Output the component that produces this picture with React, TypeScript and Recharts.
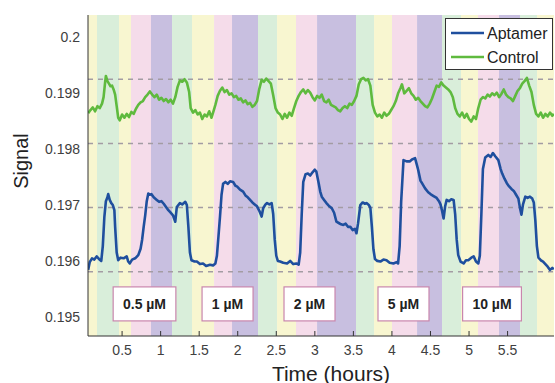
import React from 'react';
import {
  ComposedChart,
  Line,
  XAxis,
  YAxis,
  ReferenceArea,
  ReferenceLine,
  ReferenceDot,
  Legend,
} from 'recharts';

// ---------- data ----------
const xTicks = [0.5, 1, 1.5, 2, 2.5, 3, 3.5, 4, 4.5, 5, 5.5];
const yTickLabels = [0.195, 0.196, 0.197, 0.198, 0.199, 0.2];
const gridValues = [0.196, 0.197, 0.198, 0.199];

// background phase bands (hours)
const bandEdges = [
  0.058, 0.175, 0.46, 0.616, 0.875, 1.148, 1.407, 1.693, 1.926, 2.263, 2.51, 2.756,
  3.029, 3.534, 3.768, 4.001, 4.326, 4.65, 4.896, 5.117, 5.389, 5.661, 5.882, 6.102,
];
const bandKinds = [
  'yellow', 'green', 'yellow', 'pink', 'purple', 'green', 'yellow', 'pink', 'purple',
  'green', 'yellow', 'pink', 'purple', 'green', 'yellow', 'pink', 'purple', 'green',
  'yellow', 'pink', 'purple', 'green', 'yellow',
];

const concLabels = ['0.5 µM', '1 µM', '2 µM', '5 µM', '10 µM'];
const concTimes = [0.791, 1.868, 2.931, 4.15, 5.298];
const concLevel = 0.1955;

const aptamerT = [
  0.06, 0.08, 0.11, 0.14, 0.17, 0.2, 0.23, 0.25, 0.27, 0.29, 0.31, 0.32, 0.34, 0.36, 0.38, 0.4,
  0.41, 0.43, 0.45, 0.48, 0.52, 0.56, 0.58, 0.6, 0.63, 0.67, 0.71, 0.74, 0.76, 0.78, 0.8, 0.82,
  0.84, 0.86, 0.88, 0.91, 0.95, 0.98, 1.01, 1.04, 1.07, 1.1, 1.13, 1.16, 1.19, 1.21, 1.25, 1.28,
  1.32, 1.34, 1.36, 1.38, 1.4, 1.44, 1.47, 1.51, 1.55, 1.59, 1.64, 1.68, 1.71, 1.73, 1.75, 1.77,
  1.79, 1.81, 1.84, 1.87, 1.9, 1.94, 1.97, 1.99, 2.03, 2.07, 2.1, 2.13, 2.16, 2.19, 2.22, 2.25,
  2.28, 2.31, 2.33, 2.36, 2.38, 2.41, 2.44, 2.46, 2.48, 2.5, 2.52, 2.55, 2.59, 2.64, 2.68, 2.72,
  2.76, 2.79, 2.81, 2.83, 2.85, 2.88, 2.91, 2.94, 2.97, 3.0, 3.02, 3.05, 3.07, 3.09, 3.12, 3.15,
  3.18, 3.22, 3.25, 3.28, 3.31, 3.34, 3.37, 3.4, 3.43, 3.46, 3.49, 3.52, 3.54, 3.56, 3.59, 3.62,
  3.65, 3.67, 3.7, 3.72, 3.74, 3.76, 3.78, 3.81, 3.85, 3.89, 3.93, 3.97, 4.02, 4.06, 4.08, 4.1,
  4.12, 4.15, 4.19, 4.23, 4.26, 4.3, 4.32, 4.34, 4.37, 4.39, 4.43, 4.47, 4.5, 4.54, 4.58, 4.61,
  4.63, 4.65, 4.67, 4.69, 4.71, 4.74, 4.77, 4.8, 4.82, 4.84, 4.86, 4.89, 4.93, 4.96, 4.99, 5.03,
  5.06, 5.09, 5.12, 5.14, 5.16, 5.18, 5.21, 5.25, 5.28, 5.31, 5.34, 5.38, 5.41, 5.43, 5.46, 5.49,
  5.52, 5.55, 5.58, 5.61, 5.64, 5.66, 5.68, 5.7, 5.73, 5.76, 5.79, 5.82, 5.84, 5.86, 5.88, 5.9,
  5.93, 5.96, 5.99, 6.02, 6.05, 6.08, 6.1,
];
const aptamerV = [
  0.19603, 0.19615, 0.19621, 0.19619, 0.19624, 0.1962, 0.19617, 0.1964, 0.19685, 0.1971, 0.19716, 0.19721, 0.19712, 0.19707, 0.19704, 0.19696,
  0.1967, 0.1963, 0.19618, 0.19622, 0.19621, 0.19624, 0.19616, 0.19613, 0.19619, 0.19621, 0.19626, 0.19636, 0.1965, 0.1967, 0.19688, 0.1971,
  0.19722, 0.1972, 0.19721, 0.19716, 0.19712, 0.19709, 0.1971, 0.19706, 0.19701, 0.19696, 0.19692, 0.19688, 0.19678, 0.19701, 0.19707, 0.19705,
  0.19709, 0.19704, 0.1967, 0.1963, 0.19618, 0.19616, 0.19616, 0.19612, 0.19613, 0.19609, 0.19611, 0.1961, 0.19613, 0.19625, 0.19655, 0.19686,
  0.1972, 0.19737, 0.1974, 0.19737, 0.19741, 0.1974, 0.19734, 0.19733, 0.19728, 0.19725, 0.19719, 0.19716, 0.19712, 0.19708, 0.19705, 0.19702,
  0.19695, 0.19686, 0.19699, 0.19705, 0.19707, 0.19705, 0.19707, 0.1969, 0.1965, 0.19625, 0.19617, 0.19616, 0.19614, 0.19613, 0.19617, 0.19612,
  0.19613, 0.19611, 0.1963, 0.1969, 0.1974, 0.19752, 0.19753, 0.1975, 0.19755, 0.19759, 0.19756, 0.19738, 0.19725, 0.19717, 0.19712, 0.19707,
  0.19703, 0.19699, 0.19692, 0.19678, 0.19676, 0.19674, 0.19673, 0.19675, 0.1967, 0.1967, 0.19665, 0.19667, 0.1966, 0.19675, 0.19704, 0.19708,
  0.19706, 0.19707, 0.19704, 0.197, 0.1967, 0.19635, 0.1962, 0.19617, 0.19616, 0.19619, 0.19618, 0.19614, 0.19613, 0.19615, 0.19613, 0.1964,
  0.1971, 0.19774, 0.19772, 0.19772, 0.19775, 0.19777, 0.19768, 0.19759, 0.19742, 0.19738, 0.1973, 0.19724, 0.19721, 0.19718, 0.19715, 0.1971,
  0.19705, 0.19695, 0.19683, 0.19702, 0.19712, 0.1971, 0.19713, 0.19712, 0.1969, 0.1965, 0.19626, 0.19616, 0.19613, 0.19618, 0.19618, 0.19622,
  0.19624, 0.19616, 0.19613, 0.19625, 0.1969, 0.1976, 0.19778, 0.19782, 0.19779, 0.19785, 0.1978, 0.19774, 0.1976, 0.19753, 0.19745, 0.19738,
  0.19733, 0.19729, 0.19726, 0.1972, 0.19714, 0.197, 0.19689, 0.19705, 0.19717, 0.19715, 0.19717, 0.19714, 0.19708, 0.1968, 0.1964, 0.19622,
  0.19618, 0.19616, 0.19612, 0.19608, 0.19603, 0.19606, 0.19604,
];

const controlT = [
  0.06, 0.09, 0.12, 0.15, 0.18, 0.21, 0.24, 0.26, 0.28, 0.29, 0.31, 0.33, 0.35, 0.37, 0.39, 0.41,
  0.43, 0.45, 0.47, 0.5, 0.53, 0.56, 0.59, 0.62, 0.65, 0.68, 0.71, 0.74, 0.77, 0.8, 0.83, 0.86,
  0.89, 0.92, 0.95, 0.98, 1.01, 1.04, 1.07, 1.1, 1.13, 1.16, 1.19, 1.22, 1.25, 1.28, 1.31, 1.34,
  1.37, 1.39, 1.42, 1.45, 1.48, 1.51, 1.54, 1.57, 1.6, 1.63, 1.66, 1.69, 1.71, 1.74, 1.77, 1.8,
  1.83, 1.86, 1.89, 1.92, 1.95, 1.98, 2.01, 2.04, 2.07, 2.1, 2.13, 2.16, 2.19, 2.22, 2.25, 2.28,
  2.31, 2.34, 2.37, 2.4, 2.43, 2.46, 2.49, 2.52, 2.55, 2.58, 2.61, 2.64, 2.67, 2.7, 2.73, 2.76,
  2.79, 2.82, 2.85, 2.88, 2.91, 2.94, 2.97, 3.0, 3.03, 3.06, 3.09, 3.12, 3.15, 3.18, 3.21, 3.24,
  3.27, 3.3, 3.33, 3.36, 3.39, 3.42, 3.45, 3.48, 3.51, 3.54, 3.57, 3.6, 3.63, 3.66, 3.69, 3.72,
  3.75, 3.78, 3.81, 3.84, 3.87, 3.9, 3.93, 3.96, 3.99, 4.02, 4.05, 4.08, 4.11, 4.13, 4.16, 4.19,
  4.22, 4.25, 4.28, 4.31, 4.34, 4.37, 4.4, 4.43, 4.46, 4.49, 4.52, 4.55, 4.58, 4.61, 4.64, 4.67,
  4.7, 4.73, 4.76, 4.79, 4.82, 4.85, 4.88, 4.91, 4.94, 4.97, 5.0, 5.03, 5.06, 5.09, 5.12, 5.15,
  5.18, 5.21, 5.24, 5.27, 5.3, 5.33, 5.36, 5.39, 5.42, 5.45, 5.48, 5.51, 5.54, 5.57, 5.6, 5.63,
  5.66, 5.69, 5.72, 5.75, 5.78, 5.81, 5.84, 5.87, 5.9, 5.93, 5.96, 5.99, 6.02, 6.05, 6.08, 6.1,
];
const controlV = [
  0.19847, 0.19852, 0.19856, 0.1985, 0.19858, 0.19855, 0.19862, 0.19872, 0.19895, 0.19905, 0.19897, 0.19893, 0.19889, 0.1989, 0.19884, 0.19876,
  0.19858, 0.1984, 0.19836, 0.19845, 0.1984, 0.19846, 0.19841, 0.19849, 0.19846, 0.19854, 0.1986, 0.19864, 0.19866, 0.19872, 0.19876, 0.19881,
  0.19876, 0.19872, 0.19876, 0.19868, 0.19871, 0.19866, 0.19869, 0.19864, 0.19868, 0.19862, 0.19872, 0.19888, 0.19898, 0.19896, 0.199, 0.19895,
  0.1988, 0.19855, 0.19848, 0.19852, 0.19845, 0.19848, 0.19838, 0.19845, 0.19842, 0.1985, 0.1984, 0.19852, 0.1986, 0.19874, 0.19882, 0.19887,
  0.1988, 0.19883, 0.19876, 0.19878, 0.19872, 0.19874, 0.19868, 0.1987, 0.19864, 0.19867, 0.19861, 0.19863, 0.19857, 0.1986, 0.19866, 0.19885,
  0.19899, 0.19896, 0.19901, 0.19897, 0.19893, 0.19875, 0.19855, 0.19848, 0.19845, 0.19838, 0.19846, 0.1984, 0.19848, 0.19843, 0.19855, 0.19866,
  0.19874, 0.1988, 0.19884, 0.19878, 0.19883, 0.19879, 0.19872, 0.19867, 0.19874, 0.19871, 0.19876, 0.19866, 0.19864, 0.19868, 0.1986, 0.19858,
  0.19856, 0.19852, 0.1985, 0.19855, 0.19858, 0.19855, 0.19862, 0.1986, 0.19866, 0.19874, 0.19892, 0.199, 0.19902, 0.19898, 0.199, 0.1989,
  0.1986, 0.19848, 0.19842, 0.19845, 0.1984, 0.19848, 0.19843, 0.19846, 0.19852, 0.19858, 0.19866, 0.19878, 0.19886, 0.19892, 0.19878, 0.19882,
  0.19886, 0.19878, 0.19874, 0.19868, 0.19871, 0.19866, 0.19862, 0.19858, 0.19856, 0.19862, 0.1987, 0.1988, 0.1989, 0.19888, 0.19895, 0.1989,
  0.19887, 0.19884, 0.1988, 0.19872, 0.19855, 0.19846, 0.19842, 0.19848, 0.1984, 0.19846, 0.19838, 0.19834, 0.19842, 0.19838, 0.19855, 0.19868,
  0.19872, 0.1987, 0.19876, 0.19873, 0.19878, 0.19875, 0.19879, 0.19872, 0.19877, 0.19884, 0.19876, 0.19872, 0.1987, 0.19866, 0.19874, 0.19882,
  0.19886, 0.19893, 0.19897, 0.19902, 0.1989, 0.1988, 0.1986, 0.19846, 0.19842, 0.19848, 0.1984, 0.19846, 0.19842, 0.19848, 0.19843, 0.19846,
];

// ---------- styles ----------
const FONT = '"Liberation Sans", Arial, Helvetica, sans-serif';
const BAND_COLORS: Record<string, string> = {
  yellow: '#f8f6d0',
  green: '#d9eeda',
  pink: '#f5dcea',
  purple: '#c8bfe0',
};
const APTAMER_COLOR = '#1f4f9e';
const CONTROL_COLOR = '#5fba3e';
const AXIS_COLOR = '#333333';
const TEXT_COLOR = '#404040';

const aptamerData = aptamerT.map((t, i) => ({ t, v: aptamerV[i] }));
const controlData = controlT.map((t, i) => ({ t, v: controlV[i] }));
const bands = bandKinds.map((k, i) => ({ x1: bandEdges[i], x2: bandEdges[i + 1], kind: k }));

const charWidth = (c: string) =>
  c === 'M' ? 11.7 : c === 'µ' ? 8.6 : c === '.' || c === ' ' ? 3.9 : 7.8;

const ConcBox = ({ cx, cy, text }: { cx: number; cy: number; text: string }) => {
  const w = text.split('').reduce((s, c) => s + charWidth(c), 0) + 19;
  const h = 34;
  return (
    <g>
      <rect x={cx - w / 2} y={cy - h / 2} width={w} height={h} fill="#ffffff" stroke="#c986ad" strokeWidth={1.2} />
      <text
        x={cx}
        y={cy}
        textAnchor="middle"
        dominantBaseline="central"
        fontFamily={FONT}
        fontWeight="bold"
        fontSize={14}
        fill="#222"
      >
        {text}
      </text>
    </g>
  );
};

const YTitle = (props: any) => {
  const vb = props.viewBox || { x: 0, y: 15, width: 88, height: 321 };
  const cx = vb.x + 20.5;
  const cy = vb.y + vb.height / 2 - 14.5;
  return (
    <text
      x={cx}
      y={cy}
      transform={`rotate(-90, ${cx}, ${cy})`}
      textAnchor="middle"
      dominantBaseline="central"
      fontFamily={FONT}
      fontSize={20}
      fill="#222"
    >
      Signal
    </text>
  );
};

const XTitle = (props: any) => {
  const vb = props.viewBox || { x: 88, y: 336, width: 466, height: 47 };
  const cx = vb.x + vb.width / 2 + 10;
  const cy = vb.y + 37;
  return (
    <text x={cx} y={cy} textAnchor="middle" dominantBaseline="central" fontFamily={FONT} fontSize={21} fill="#222">
      Time (hours)
    </text>
  );
};

const LegendBox = (props: any) => {
  const payload = props.payload || [];
  return (
    <svg width={108} height={52} style={{ display: 'block' }}>
      <rect x={0.5} y={0.5} width={107} height={51} fill="#ffffff" stroke="#333" strokeWidth={1} />
      {payload.map((p: any, i: number) => {
        const y = 15 + i * 24;
        return (
          <g key={p.value}>
            <line x1={6} x2={39} y1={y} y2={y} stroke={p.color} strokeWidth={2.5} />
            <text x={42} y={y} dominantBaseline="central" fontFamily={FONT} fontSize={16} fill="#222">
              {p.value}
            </text>
          </g>
        );
      })}
    </svg>
  );
};

export default function App() {
  const xDomain: [number, number] = [bandEdges[0], bandEdges[bandEdges.length - 1]];
  return (
    <div style={{ position: 'absolute', left: 0, top: 0, width: 555, height: 383, background: '#fff' }}>
      <ComposedChart width={555} height={383} margin={{ top: 15, right: 1, bottom: 0, left: 0 }}>
        <XAxis
          xAxisId="b"
          type="number"
          dataKey="t"
          domain={xDomain}
          allowDataOverflow
          ticks={xTicks}
          interval={0}
          height={47}
          tickSize={-5}
          tickMargin={14}
          axisLine={{ stroke: AXIS_COLOR }}
          tickLine={{ stroke: AXIS_COLOR }}
          tick={{ fill: TEXT_COLOR, fontSize: 14, fontFamily: FONT }}
          label={<XTitle />}
        />
        <XAxis
          xAxisId="top"
          orientation="top"
          type="number"
          domain={xDomain}
          allowDataOverflow
          ticks={xTicks}
          interval={0}
          height={0}
          tickSize={-5}
          tick={false}
          axisLine={{ stroke: AXIS_COLOR }}
          tickLine={{ stroke: AXIS_COLOR }}
        />
        <YAxis
          yAxisId="sig"
          type="number"
          domain={[0.195, 0.2]}
          allowDataOverflow
          ticks={gridValues}
          interval={0}
          width={0}
          tickSize={-5}
          tick={false}
          axisLine={false}
          tickLine={{ stroke: AXIS_COLOR }}
        />
        <YAxis
          yAxisId="lab"
          type="number"
          domain={[0.194655, 0.200399]}
          allowDataOverflow
          ticks={yTickLabels}
          interval={0}
          width={88}
          tickSize={0}
          tickMargin={8}
          tickLine={false}
          axisLine={{ stroke: AXIS_COLOR }}
          tick={{ fill: TEXT_COLOR, fontSize: 14, fontFamily: FONT }}
          label={<YTitle />}
        />
        <YAxis
          yAxisId="r"
          orientation="right"
          type="number"
          domain={[0.195, 0.2]}
          allowDataOverflow
          ticks={gridValues}
          interval={0}
          width={0}
          tickSize={-5}
          tick={false}
          axisLine={{ stroke: AXIS_COLOR }}
          tickLine={{ stroke: AXIS_COLOR }}
        />

        {bands.map((b, i) => (
          <ReferenceArea
            key={`band-${i}`}
            xAxisId="b"
            yAxisId="sig"
            x1={b.x1}
            x2={b.x2}
            fill={BAND_COLORS[b.kind]}
            fillOpacity={1}
            stroke="none"
            ifOverflow="hidden"
          />
        ))}

        {gridValues.map((g) => (
          <ReferenceLine
            key={`grid-${g}`}
            xAxisId="b"
            yAxisId="sig"
            y={g}
            stroke="#a39ca3"
            strokeWidth={1.5}
            strokeDasharray="5 5"
          />
        ))}

        <Line
          xAxisId="b"
          yAxisId="sig"
          data={aptamerData}
          dataKey="v"
          name="Aptamer"
          type="linear"
          stroke={APTAMER_COLOR}
          strokeWidth={2.6}
          dot={false}
          activeDot={false}
          isAnimationActive={false}
          strokeLinejoin="round"
        />
        <Line
          xAxisId="b"
          yAxisId="sig"
          data={controlData}
          dataKey="v"
          name="Control"
          type="linear"
          stroke={CONTROL_COLOR}
          strokeWidth={2.6}
          dot={false}
          activeDot={false}
          isAnimationActive={false}
          strokeLinejoin="round"
        />

        {concLabels.map((lbl, i) => (
          <ReferenceDot
            key={`conc-${i}`}
            xAxisId="b"
            yAxisId="sig"
            x={concTimes[i]}
            y={concLevel}
            r={1}
            ifOverflow="visible"
            shape={(p: any) => <ConcBox cx={p.cx} cy={p.cy} text={lbl} />}
          />
        ))}

        <Legend
          layout="vertical"
          align="center"
          verticalAlign="middle"
          content={<LegendBox />}
          wrapperStyle={{ position: 'absolute', left: 445, top: 18, width: 108, height: 52 }}
        />
      </ComposedChart>
    </div>
  );
}
